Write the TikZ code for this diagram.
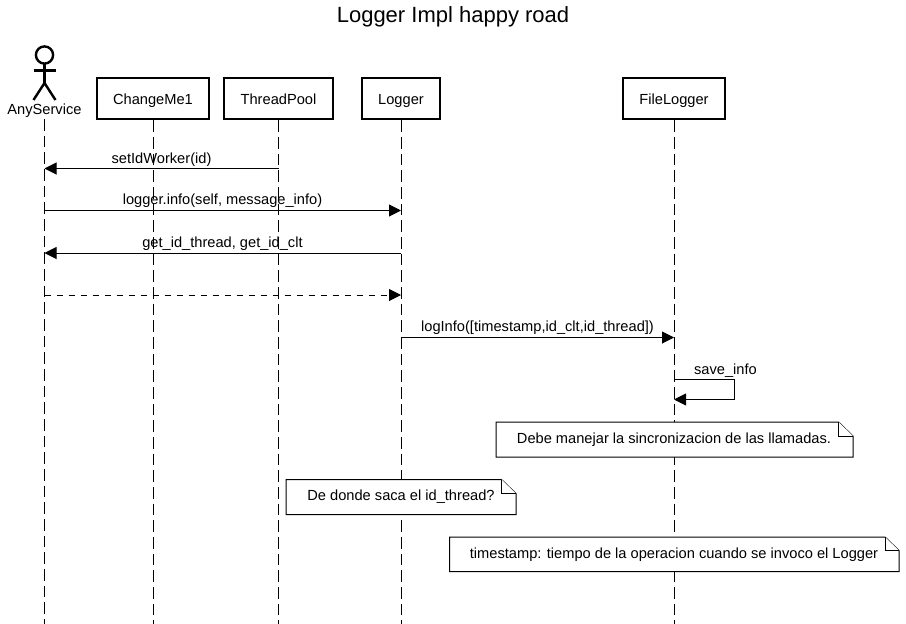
\documentclass[tikz,border=0pt]{standalone}
\usepackage{fontspec}
\setmainfont{Liberation Sans}
\usetikzlibrary{arrows.meta}
\newcommand{\lbl}{\fontsize{10.98pt}{13pt}\selectfont}
\tikzset{
  x=0.75pt,y=-0.75pt,
  partbox/.style={draw=black,line width=1.8pt,fill=white,minimum height=30.75pt,inner sep=0pt,font=\lbl,text height=10pt,text depth=1.3pt},
  life/.style={draw=black,line width=0.75pt,dash pattern=on 8.8pt off 3.7pt},
  msg/.style={draw=black,line width=0.75pt,-{Triangle[length=9pt,width=9pt]}},
  dmsg/.style={msg,dash pattern=on 4.5pt off 4.5pt},
  mlabel/.style={font=\lbl,inner sep=0pt,anchor=base},
  notebody/.style={draw=black,line width=0.75pt,fill=white},
  notetext/.style={font=\lbl,inner sep=0pt,anchor=base},
  actorline/.style={draw=black,line width=1.8pt}
}
\begin{document}
\begin{tikzpicture}
\useasboundingbox (0,0) rectangle (906,624);
\node[font=\fontsize{16.5pt}{20pt}\selectfont,inner sep=0pt,anchor=base] (title) at (453,23) {Logger Impl happy road};
% lifeline ends
\coordinate (anyend) at (44.5,624);
\coordinate (cmend) at (153,624);
\coordinate (tpend) at (278.5,624);
\coordinate (logend) at (401,624);
\coordinate (flend) at (674,624);
\coordinate (anytop) at (44.5,119);
\draw[life] (anytop) -- (anyend);
\node[partbox,minimum width=84pt] (cm) at (153,98.5) {ChangeMe1};
\node[partbox,minimum width=81.75pt] (tp) at (278.5,98.5) {ThreadPool};
\node[partbox,minimum width=58.5pt] (log) at (401,98.5) {Logger};
\node[partbox,minimum width=76.5pt] (fl) at (674,98.5) {FileLogger};
\draw[life] (cm.south) -- (cmend);
\draw[life] (tp.south) -- (tpend);
\draw[life] (log.south) -- (logend);
\draw[life] (fl.south) -- (flend);
% actor
\draw[actorline,fill=white] (44.5,55) circle (8.6);
\draw[actorline] (44.5,64) -- (44.5,83);
\draw[actorline] (33.5,70.5) -- (55.5,70.5);
\draw[actorline] (33.5,100) -- (44.5,83) -- (55.5,100);
\node[mlabel] (any) at (44.5,114.7) {AnyService};
% messages
\draw[msg] (tp.south |- 0,168.5) -- (anytop |- 0,168.5);
\node[mlabel] (l1) at (161.5,163.5) {setIdWorker(id)};
\draw[msg] (anytop |- 0,210.5) -- (log.south |- 0,210.5);
\node[mlabel] (l2) at (222.5,204.5) {logger.info(self, message\_info)};
\draw[msg] (log.south |- 0,253) -- (anytop |- 0,253);
\node[mlabel] (l3) at (222.5,247) {get\_id\_thread, get\_id\_clt};
\draw[dmsg] (anytop |- 0,295) -- (log.south |- 0,295);
\draw[msg] (log.south |- 0,337.5) -- (fl.south |- 0,337.5);
\node[mlabel] (l4) at (537.5,331.8) {logInfo([timestamp,id\_clt,id\_thread])};
\draw[msg] (fl.south |- 0,379.5) -- (734.5,379.5) -- (734.5,399.5) -- (fl.south |- 0,399.5);
\node[mlabel] (l5) at (725.5,374) {save\_info};
% notes
\draw[notebody] (496,422) -- (838.5,422) -- (853,436) -- (853,457) -- (496,457) -- cycle;
\draw[notebody] (838.5,422) -- (838.5,436) -- (853,436);
\node[notetext] (n1) at (674,443) {Debe manejar la sincronizacion de las llamadas.};
\draw[notebody] (286,479.5) -- (501.5,479.5) -- (516,493.5) -- (516,514.5) -- (286,514.5) -- cycle;
\draw[notebody] (501.5,479.5) -- (501.5,493.5) -- (516,493.5);
\node[notetext] (n2) at (401,500) {De donde saca el id\_thread?};
\draw[notebody] (449.5,537) -- (885,537) -- (899,550.5) -- (899,571.5) -- (449.5,571.5) -- cycle;
\draw[notebody] (885,537) -- (885,550.5) -- (899,550.5);
\node[notetext] (n3) at (674,558) {timestamp: tiempo de la operacion cuando se invoco el Logger};
\end{tikzpicture}
\end{document}
